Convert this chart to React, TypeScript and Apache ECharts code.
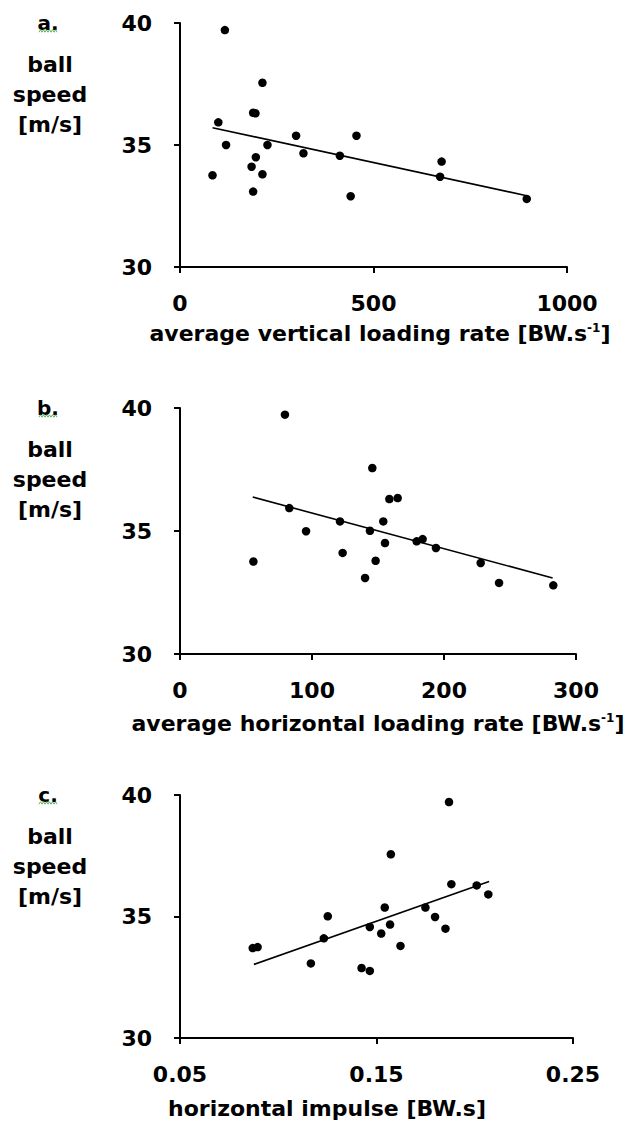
import React, { useEffect, useRef } from 'react';
import * as echarts from 'echarts';

const FONT = '"DejaVu Sans", "Liberation Sans", sans-serif';

// ---------- Panel a ----------
const avgVerticalLoadingRate = [116, 213, 189, 195, 99, 119, 226, 300, 456, 319, 413, 196, 185, 84, 213, 189, 441, 676, 672, 896];
const ballSpeedA = [39.71, 37.55, 36.32, 36.30, 35.93, 35.0, 35.0, 35.38, 35.38, 34.66, 34.56, 34.5, 34.11, 33.76, 33.8, 33.09, 32.9, 34.32, 33.7, 32.79];
const trendAX = [84, 896];
const trendAY = [35.71, 32.92];
const xTicksA = [0, 500, 1000];

// ---------- Panel b ----------
const avgHorizontalLoadingRate = [79.5, 145.7, 158.6, 164.9, 82.8, 121.2, 154.0, 95.5, 143.9, 155.3, 179.3, 183.8, 193.9, 123.2, 55.6, 148.2, 227.8, 140.2, 241.7, 282.8];
const ballSpeedB = [39.73, 37.56, 36.30, 36.34, 35.93, 35.39, 35.39, 34.99, 35.01, 34.51, 34.58, 34.67, 34.31, 34.11, 33.76, 33.79, 33.70, 33.09, 32.89, 32.79];
const trendBX = [55.1, 282.3];
const trendBY = [36.38, 33.09];
const xTicksB = [0, 100, 200, 300];

// ---------- Panel c ----------
const horizontalImpulse = [0.1869, 0.1573, 0.1881, 0.2010, 0.2069, 0.1542, 0.1749, 0.1252, 0.1798, 0.1466, 0.1569, 0.1524, 0.1851, 0.1232, 0.0870, 0.0895, 0.1622, 0.1166, 0.1424, 0.1466];
const ballSpeedC = [39.71, 37.56, 36.33, 36.28, 35.91, 35.37, 35.37, 35.01, 34.98, 34.57, 34.67, 34.30, 34.50, 34.10, 33.70, 33.74, 33.79, 33.07, 32.88, 32.76];
const trendCX = [0.0876, 0.2073];
const trendCY = [33.03, 36.44];
const xTicksC = [0.05, 0.15, 0.25];

const yTicks = [30, 35, 40];

const panelLetters = ['a.', 'b.', 'c.'];
const yTitle = 'ball\nspeed\n[m/s]';
const xTitles = [
  'average vertical loading rate [BW.s{sup|-1}]',
  'average horizontal loading rate [BW.s{sup|-1}]',
  'horizontal impulse [BW.s]',
];

const zip = (xs: number[], ys: number[]) => xs.map((x, i) => [x, ys[i]]);

export default function App() {
  const ref = useRef<HTMLDivElement>(null);
  useEffect(() => {
    if (!ref.current) return;
    const chart = echarts.init(ref.current, null, { renderer: 'svg' });

    const grids = [
      { left: 180, top: 23, width: 387, height: 244 },
      { left: 180, top: 408, width: 396, height: 246 },
      { left: 180, top: 795, width: 393, height: 243 },
    ];
    const xTickSets = [xTicksA, xTicksB, xTicksC];
    const scatterSets = [
      zip(avgVerticalLoadingRate, ballSpeedA),
      zip(avgHorizontalLoadingRate, ballSpeedB),
      zip(horizontalImpulse, ballSpeedC),
    ];
    const trendSets = [zip(trendAX, trendAY), zip(trendBX, trendBY), zip(trendCX, trendCY)];
    const titleCenters = [
      { x: 380, y: 333 },
      { x: 378, y: 723 },
      { x: 327, y: 1108 },
    ];

    const axisLine = { show: true, onZero: false, lineStyle: { color: '#000', width: 2 } };
    const axisTick = (vals: number[]) => ({ show: true, length: 6, customValues: vals, lineStyle: { color: '#000', width: 2 } });
    const labelBase = { color: '#000', fontSize: 22, fontWeight: 'bold', fontFamily: FONT };

    const xAxis = grids.map((_, i) => ({
      gridIndex: i,
      type: 'value',
      min: xTickSets[i][0],
      max: xTickSets[i][xTickSets[i].length - 1],
      axisLine,
      axisTick: axisTick(xTickSets[i]),
      axisLabel: {
        ...labelBase,
        margin: 25,
        customValues: xTickSets[i],
        formatter: (v: number) => (i === 2 ? v.toFixed(2) : String(v)),
      },
      splitLine: { show: false },
    }));
    const yAxis = grids.map((_, i) => ({
      gridIndex: i,
      type: 'value',
      min: yTicks[0],
      max: yTicks[yTicks.length - 1],
      axisLine,
      axisTick: axisTick(yTicks),
      axisLabel: { ...labelBase, margin: 28, customValues: yTicks },
      splitLine: { show: false },
    }));

    const series: any[] = [];
    grids.forEach((_, i) => {
      series.push({
        type: 'scatter',
        xAxisIndex: i,
        yAxisIndex: i,
        data: scatterSets[i],
        symbol: 'circle',
        symbolSize: 8.5,
        itemStyle: { color: '#000', opacity: 1 },
        z: 3,
      });
      series.push({
        type: 'line',
        xAxisIndex: i,
        yAxisIndex: i,
        data: trendSets[i],
        showSymbol: false,
        symbol: 'none',
        lineStyle: { color: '#000', width: 1.6 },
        z: 2,
      });
    });

    const graphic: any[] = [];
    grids.forEach((g, i) => {
      graphic.push({
        type: 'text',
        x: 48,
        y: g.top,
        style: {
          text: panelLetters[i],
          fill: '#000',
          fontSize: 20,
          fontWeight: 'bold',
          fontFamily: FONT,
          align: 'center',
          verticalAlign: 'middle',
        },
      });
      const pts: number[][] = [];
      for (let k = 0; k <= 12; k++) pts.push([39 + k * 1.5, g.top + 8 + (k % 2 === 0 ? 1.2 : -1.2)]);
      graphic.push({
        type: 'polyline',
        shape: { points: pts },
        style: { stroke: '#5cb85c', lineWidth: 1, fill: null },
      });
      graphic.push({
        type: 'text',
        x: 50,
        y: g.top + 71,
        style: {
          text: yTitle,
          fill: '#000',
          fontSize: 22,
          fontWeight: 'bold',
          fontFamily: FONT,
          lineHeight: 30,
          align: 'center',
          verticalAlign: 'middle',
        },
      });
      graphic.push({
        type: 'text',
        x: titleCenters[i].x,
        y: titleCenters[i].y,
        style: {
          text: xTitles[i],
          fill: '#000',
          fontSize: 22,
          fontWeight: 'bold',
          fontFamily: FONT,
          align: 'center',
          verticalAlign: 'middle',
          rich: {
            sup: { fontSize: 12, fontWeight: 'bold', fontFamily: FONT, fill: '#000', verticalAlign: 'top', lineHeight: 12 },
          },
        },
      });
    });

    chart.setOption({
      animation: false,
      backgroundColor: '#fff',
      grid: grids,
      xAxis,
      yAxis,
      series,
      graphic,
    });
    return () => chart.dispose();
  }, []);
  return <div ref={ref} style={{ position: 'absolute', left: 0, top: 0, width: 629, height: 1123 }} />;
}
